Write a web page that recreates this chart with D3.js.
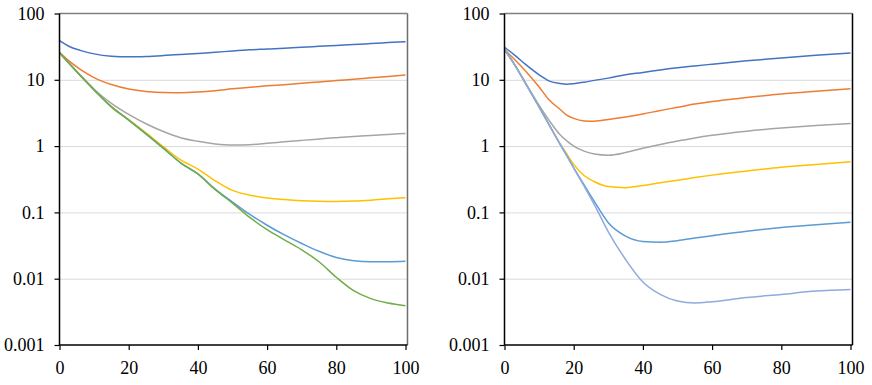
<html>
<head>
    <script src="https://d3js.org/d3.v7.min.js"></script>
    <style>
        body { margin: 0; background: #fff; }
        .gridlines line { stroke: #d9d9d9; }
        .gridlines .domain { stroke: none; }
    </style>
</head>
<body>
<svg width="872" height="385"></svg>
<script>
    // x positions sampled on each panel
    const leftX = [0, 3, 6, 10, 15, 20, 25, 30, 35, 40, 45, 50, 55, 60, 65, 70, 75, 80, 85, 90, 95, 100];
    const rightX = [0, 3, 6, 10, 13, 16, 18, 20, 23, 26, 30, 35, 40, 45, 50, 55, 60, 70, 80, 90, 100];

    // left panel series
    const leftBlue = [39, 31.5, 27.8, 24.6, 22.7, 22.2, 22.5, 23.2, 24.1, 25.0, 26.0, 27.2, 28.3, 29.1, 30.0, 31.0, 32.0, 33.0, 34.0, 35.2, 36.4, 37.6];
    const leftOrange = [26, 18.8, 14.4, 10.8, 8.5, 7.28, 6.68, 6.42, 6.4, 6.55, 6.85, 7.3, 7.7, 8.1, 8.45, 8.85, 9.3, 9.75, 10.2, 10.7, 11.2, 11.8];
    const leftGray = [25.5, 17.3, 11.8, 7.2, 4.4, 3.0, 2.17, 1.66, 1.34, 1.18, 1.08, 1.04, 1.05, 1.1, 1.16, 1.22, 1.28, 1.34, 1.4, 1.45, 1.5, 1.55];
    const leftYellow = [25.5, 17.1, 11.6, 7.05, 3.95, 2.5, 1.58, 0.98, 0.62, 0.45, 0.3, 0.215, 0.182, 0.165, 0.156, 0.15, 0.147, 0.146, 0.148, 0.153, 0.16, 0.167];
    const leftLightBlue = [25.5, 17.1, 11.6, 7.05, 3.9, 2.47, 1.53, 0.93, 0.56, 0.38, 0.225, 0.143, 0.093, 0.064, 0.0457, 0.034, 0.0259, 0.0209, 0.0187, 0.018, 0.018, 0.0183];
    const leftGreen = [25.5, 17.1, 11.6, 7.05, 3.9, 2.47, 1.53, 0.93, 0.56, 0.38, 0.22, 0.138, 0.084, 0.055, 0.0386, 0.0273, 0.018, 0.0105, 0.0066, 0.005, 0.0043, 0.0039];

    // right panel series
    const rightBlue = [31, 23.4, 17.2, 11.9, 9.55, 8.8, 8.6, 8.75, 9.2, 9.8, 10.6, 11.9, 12.9, 14.1, 15.2, 16.2, 17.2, 19.3, 21.4, 23.4, 25.3];
    const rightOrange = [28.5, 20, 13.7, 7.8, 4.9, 3.6, 2.94, 2.62, 2.4, 2.38, 2.52, 2.75, 3.05, 3.45, 3.85, 4.3, 4.7, 5.4, 6.1, 6.7, 7.3];
    const rightGray = [28.5, 16.7, 9.1, 4.1, 2.4, 1.5, 1.2, 1.0, 0.84, 0.76, 0.73, 0.8, 0.93, 1.06, 1.19, 1.33, 1.46, 1.68, 1.87, 2.04, 2.2];
    const rightYellow = [28.5, 16.7, 9.0, 3.9, 2.05, 1.1, 0.76, 0.53, 0.36, 0.29, 0.245, 0.236, 0.255, 0.28, 0.305, 0.335, 0.365, 0.42, 0.48, 0.53, 0.58];
    const rightLightBlue = [28.5, 16.7, 9.0, 3.9, 2.05, 1.08, 0.72, 0.47, 0.26, 0.145, 0.07, 0.044, 0.0365, 0.0355, 0.0375, 0.041, 0.0445, 0.052, 0.059, 0.065, 0.071];
    const rightPaleBlue = [28.5, 16.7, 9.0, 3.9, 2.05, 1.08, 0.72, 0.47, 0.25, 0.13, 0.051, 0.0195, 0.0089, 0.0058, 0.0046, 0.0043, 0.0045, 0.0052, 0.0058, 0.0065, 0.0069];

    const xTicks = [0, 20, 40, 60, 80, 100];
    const yTicks = [0.001, 0.01, 0.1, 1, 10, 100];

    const svg = d3.select("svg");
    const plotTop = 13.5, plotBottom = 345;

    const yScale = d3.scaleLog()
        .domain([0.001, 100])
        .range([plotBottom, plotTop]);

    function drawPanel(left, right, frameRight, xs, series, rightColor) {
        const xScale = d3.scaleLinear()
            .domain([0, 100])
            .range([left, right]);

        // gridlines
        svg.append("g")
            .attr("class", "gridlines")
            .attr("transform", `translate(${left},0)`)
            .call(d3.axisLeft(yScale).tickValues([0.01, 0.1, 1, 10]).tickSize(-(frameRight - left)).tickFormat(""));

        // frame (top and right)
        svg.append("line")
            .attr("x1", left).attr("x2", frameRight)
            .attr("y1", plotTop).attr("y2", plotTop)
            .attr("stroke", "#7f7f7f").attr("stroke-width", 1.5);
        svg.append("line")
            .attr("x1", frameRight).attr("x2", frameRight)
            .attr("y1", plotTop).attr("y2", plotBottom)
            .attr("stroke", rightColor).attr("stroke-width", 1.5);

        const line = d3.line()
            .x((d, i) => xScale(xs[i]))
            .y(d => yScale(d))
            .curve(d3.curveMonotoneX);

        series.forEach(s => {
            svg.append("path")
                .datum(s.values)
                .attr("fill", "none")
                .attr("stroke", s.color)
                .attr("stroke-width", 1.5)
                .attr("d", line);
        });

        // axes
        const yAxis = svg.append("g")
            .attr("transform", `translate(${left},0)`)
            .call(d3.axisLeft(yScale).tickValues(yTicks).tickSize(5).tickPadding(10).tickFormat(d3.format("~g")));
        const xAxis = svg.append("g")
            .attr("transform", `translate(0,${plotBottom})`)
            .call(d3.axisBottom(xScale).tickValues(xTicks).tickSize(5).tickPadding(11.5).tickSizeOuter(0));
        [yAxis, xAxis].forEach(a => {
            a.attr("font-family", "'Liberation Serif', 'Times New Roman', serif").attr("font-size", 18);
            a.select(".domain").attr("stroke", "#000").attr("stroke-width", 1.5);
            a.selectAll(".tick line").attr("stroke", "#000").attr("stroke-width", 1.2);
            a.selectAll("text").attr("fill", "#000");
        });
        xAxis.select(".domain").attr("d", `M${left},0H${frameRight}`);
        yAxis.select(".domain").attr("d", `M0,${plotBottom}V${plotTop}`);
    }

    drawPanel(59.5, 405.5, 407.5, leftX, [
        { values: leftBlue, color: "#4472C4" },
        { values: leftOrange, color: "#ED7D31" },
        { values: leftGray, color: "#A5A5A5" },
        { values: leftYellow, color: "#FFC000" },
        { values: leftLightBlue, color: "#5B9BD5" },
        { values: leftGreen, color: "#70AD47" }
    ], "#6e6e6e");

    drawPanel(504.5, 850.5, 852.5, rightX, [
        { values: rightBlue, color: "#4472C4" },
        { values: rightOrange, color: "#ED7D31" },
        { values: rightGray, color: "#A5A5A5" },
        { values: rightYellow, color: "#FFC000" },
        { values: rightLightBlue, color: "#5B9BD5" },
        { values: rightPaleBlue, color: "#8FAADC" }
    ], "#000");
</script>
</body>
</html>
